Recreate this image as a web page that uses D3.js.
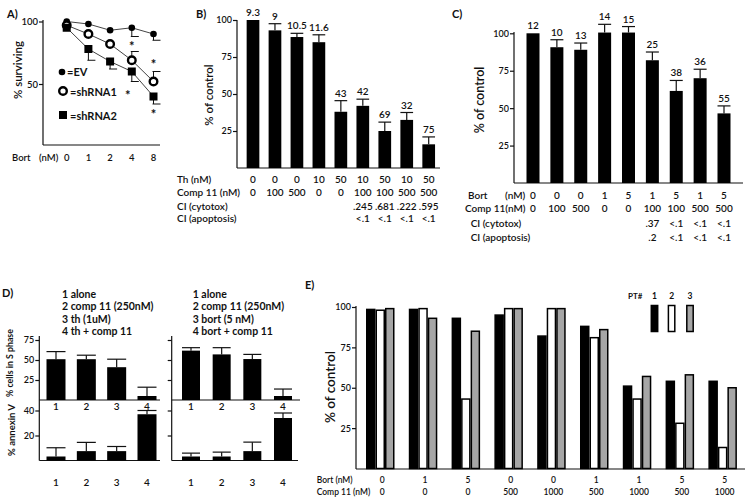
<!DOCTYPE html>
<html><head><meta charset="utf-8">
<script src="https://cdn.jsdelivr.net/npm/d3@7"></script>
<style>body{margin:0;background:#fff} svg text{font-family:Lato,"Open Sans",sans-serif;fill:#111}</style>
</head><body><svg id="c" width="751" height="502"></svg>
<script>
// ---------- DATA ----------
// Panel A
const aDoses = ["0","1","2","4","8"];
const aEV    = [100, 98, 93, 95, 90];
const aEVerr = [0, 0, 0, -7, -5];
const aSh1   = [97, 90, 82, 69, 52];
const aSh1err= [0, 0, 0, 7, 8];
const aSh2   = [95, 78, 68, 60, 40];
const aSh2err= [0, -9, -6, -8, -6];
const aStars = [{d:"4",v:81,dx:0},{d:"4",v:42,dx:-4},{d:"8",v:67,dx:0},{d:"8",v:27,dx:0}];
const aTicks = [50, 100];
// Panel B
const bTh    = ["0","0","0","10","50","10","50","10","50"];
const bComp  = ["0","100","500","0","0","100","100","500","500"];
const bCIc   = ["","","","","",".245",".681",".222",".595"];
const bCIa   = ["","","","","","<.1","<.1","<.1","<.1"];
const bVals  = [100, 93, 88.5, 85, 38, 42, 25, 32.5, 16];
const bErr   = [0, 4.5, 2.5, 5, 7.5, 4.5, 6, 5, 5];
const bLabels= ["9.3","9","10.5","11.6","43","42","69","32","75"];
// Panel C
const cBort  = ["0","0","0","1","5","1","5","1","5"];
const cComp  = ["0","100","500","0","0","100","100","500","500"];
const cCIc   = ["","","","","",".37","<.1","<.1","<.1"];
const cCIa   = ["","","","","",".2","<.1","<.1","<.1"];
const cVals  = [100, 90.7, 89, 100.5, 100.5, 82, 61.5, 70, 46.5];
const cErr   = [0, 5, 4.5, 5.5, 4, 5.5, 7, 6, 5];
const cLabels= ["12","10","13","14","15","25","38","36","55"];
const pctTicks = [25, 50, 75, 100];
// Panel D
const dCats   = ["1","2","3","4"];
const dLegL   = ["1 alone","2 comp 11 (250nM)","3 th (1uM)","4 th + comp 11"];
const dLegR   = ["1 alone","2 comp 11 (250nM)","3 bort (5 nM)","4 bort + comp 11"];
const dLS     = [51, 51, 41, 5];     const dLSerr = [9.5, 5, 10, 11];
const dLA     = [3.2, 7.5, 7.5, 37]; const dLAerr = [7, 7, 3.7, 3];
const dRS     = [61.7, 57, 51.2, 5]; const dRSerr = [3.7, 8.4, 5.8, 8.7];
const dRA     = [3.2, 3.2, 7.5, 34]; const dRAerr = [2.7, 3.5, 7.2, 4];
const dTicksS = [25, 50, 75];
const dTicksA = [20, 40];
// Panel E
const eBort = ["0","1","5","0","0","1","1","5","5"];
const eComp = ["0","0","0","500","1000","500","1000","500","1000"];
const ePT1  = [98.5, 98.5, 93, 95, 82, 88, 51, 54, 54];
const ePT2  = [98, 99, 43, 99, 99, 81, 43, 28, 13];
const ePT3  = [99, 93, 85, 99, 99, 86, 57, 58, 50];
const ePT   = ["1","2","3"];

// ---------- DRAW ----------
const INK = "#111";
const F = 'Lato,"Open Sans",sans-serif';
const svg = d3.select("#c");
svg.append("rect").attr("width",751).attr("height",502).attr("fill","#fff");

function label(x, y, s, size, o = {}) {
  const t = svg.append("text").attr("x", x).attr("y", y).text(s)
    .attr("font-size", size).attr("text-anchor", o.anchor || "start")
    .attr("font-weight", o.weight || "600");
  if (o.rotate) t.attr("transform", `rotate(-90,${x},${y})`);
  return t;
}
function line(x1, y1, x2, y2, w = 1.2, c = INK) {
  svg.append("line").attr("x1", x1).attr("y1", y1).attr("x2", x2).attr("y2", y2)
    .attr("stroke", c).attr("stroke-width", w);
}
function yAxis(x, scale, ticks, show, size) {
  const ax = d3.axisLeft(scale).tickValues(ticks).tickSize(4).tickSizeOuter(0)
    .tickFormat(show ? d3.format("d") : () => "");
  const g = svg.append("g").attr("transform", `translate(${x},0)`).call(ax)
    .attr("font-family", F).attr("font-size", size);
  g.select(".domain").remove();
  g.selectAll("line").attr("stroke", INK).attr("stroke-width", 1.2);
  g.selectAll("text").attr("fill", INK).attr("x", -5).attr("font-weight", "600");
  return g;
}
function barSet(xs, keys, ys, vals, errs, w, fill = "#000") {
  const g = svg.append("g");
  g.selectAll("rect").data(vals).join("rect")
    .attr("x", (d, i) => xs(keys[i]) - w / 2).attr("y", d => ys(d))
    .attr("width", w).attr("height", d => ys(0) - ys(d)).attr("fill", fill);
  vals.forEach((v, i) => {
    if (!errs[i]) return;
    const cx = xs(keys[i]);
    line(cx, ys(v), cx, ys(v + errs[i]), 1.2);
    line(cx - w / 2, ys(v + errs[i]), cx + w / 2, ys(v + errs[i]), 1.2);
  });
}

// ===== Panel A =====
const aX = d3.scalePoint().domain(aDoses).range([66.7, 153.5]);
const aY = d3.scaleLinear().domain([0, 100]).range([146.5, 21.5]);
line(43, 20, 43, 145); line(43, 145, 160, 145);
yAxis(43, aY, aTicks, true, 9.5);
label(7, 18, "A)", 11, {weight: "bold"});
label(22, 70, "% surviving", 11.5, {rotate: true, anchor: "middle"});
label(12, 161, "Bort", 9.5); label(39, 161, "(nM)", 9.5);
aDoses.forEach(d => label(aX(d), 161, d, 9.5, {anchor: "middle"}));
const aSeries = [[aEV, aEVerr], [aSh1, aSh1err], [aSh2, aSh2err]];
const ln = d3.line().x((d, i) => aX(aDoses[i])).y(d => aY(d));
aSeries.forEach(([vals, errs]) => {
  svg.append("path").attr("d", ln(vals)).attr("fill", "none").attr("stroke", "#444").attr("stroke-width", 1);
  vals.forEach((v, i) => {
    if (!errs[i]) return;
    const cx = aX(aDoses[i]), y2 = aY(v + errs[i]);
    line(cx, aY(v), cx, y2, 1); line(cx - 1, y2, cx + 7, y2, 1);
  });
});
svg.append("g").selectAll("circle").data(aEV).join("circle")
  .attr("cx", (d, i) => aX(aDoses[i])).attr("cy", d => aY(d)).attr("r", 3.3).attr("fill", "#000");
svg.append("g").selectAll("circle").data(aSh1).join("circle")
  .attr("cx", (d, i) => aX(aDoses[i])).attr("cy", d => aY(d)).attr("r", 3.8)
  .attr("fill", "#fff").attr("stroke", "#000").attr("stroke-width", 2.4);
svg.append("g").selectAll("rect").data(aSh2).join("rect")
  .attr("x", (d, i) => aX(aDoses[i]) - 4).attr("y", d => aY(d) - 4).attr("width", 8).attr("height", 8).attr("fill", "#000");
aStars.forEach(s => label(aX(s.d) + s.dx, aY(s.v) + 6, "*", 13, {anchor: "middle", weight: "bold"}));
// legend A
svg.append("circle").attr("cx", 62).attr("cy", 72).attr("r", 3.3).attr("fill", "#000");
label(67, 76, "=EV", 11, {weight: "bold"});
svg.append("circle").attr("cx", 63).attr("cy", 91).attr("r", 3.8).attr("fill", "#fff").attr("stroke", "#000").attr("stroke-width", 2.4);
label(70, 95.5, "=shRNA1", 11, {weight: "bold"});
svg.append("rect").attr("x", 59).attr("y", 111).attr("width", 8).attr("height", 8).attr("fill", "#000");
label(70, 119.5, "=shRNA2", 11, {weight: "bold"});

// ===== Panel B =====
const bIdx = d3.range(bVals.length);
const bX = d3.scalePoint().domain(bIdx).range([253, 428.7]);
const bY = d3.scaleLinear().domain([0, 100]).range([168, 20]);
line(237, 20, 237, 168); line(237, 168, 440, 168);
yAxis(237, bY, pctTicks, true, 9);
barSet(bX, bIdx, bY, bVals, bErr, 12.7);
bLabels.forEach((s, i) => label(bX(i), bY(bVals[i] + bErr[i]) - 4, s, 10, {anchor: "middle"}));
label(196, 18, "B)", 11, {weight: "bold"});
label(213, 95, "% of control", 11.5, {rotate: true, anchor: "middle"});
const bRows = [["Th (nM)", bTh], ["Comp 11 (nM)", bComp], ["CI (cytotox)", bCIc], ["CI (apoptosis)", bCIa]];
const bRowY = [183, 195.7, 209.5, 221.5];
bRows.forEach(([name, vals], r) => {
  label(177, bRowY[r], name, 10);
  vals.forEach((s, i) => label(bX(i), bRowY[r], s, 10, {anchor: "middle"}));
});

// ===== Panel C =====
const cIdx = d3.range(cVals.length);
const cX = d3.scalePoint().domain(cIdx).range([533, 724]);
const cY = d3.scaleLinear().domain([0, 100]).range([183, 33.3]);
line(514, 32, 514, 183); line(514, 183, 743, 183);
yAxis(514, cY, pctTicks, true, 9);
barSet(cX, cIdx, cY, cVals, cErr, 13);
cLabels.forEach((s, i) => label(cX(i), cY(cVals[i] + cErr[i]) - 4, s, 10, {anchor: "middle"}));
label(452, 18, "C)", 11, {weight: "bold"});
label(484, 100, "% of control", 12.5, {rotate: true, anchor: "middle"});
const cRowY = [199, 212.3, 226.7, 240.7];
label(468, cRowY[0], "Bort", 10); label(505, cRowY[0], "(nM)", 10);
label(465, cRowY[1], "Comp 11(nM)", 10);
label(470.7, cRowY[2], "CI (cytotox)", 10);
label(470.7, cRowY[3], "CI (apoptosis)", 10);
[cBort, cComp, cCIc, cCIa].forEach((vals, r) =>
  vals.forEach((s, i) => label(cX(i), cRowY[r], s, 10, {anchor: "middle"})));

// ===== Panel D =====
const dYU = d3.scaleLinear().domain([0, 75]).range([400, 340]);
const dYL = d3.scaleLinear().domain([0, 40]).range([460.5, 410.5]);
const dXL = d3.scalePoint().domain(dCats).range([56, 147]);
const dXR = d3.scalePoint().domain(dCats).range([191, 283]);
const dLegY = [298, 310, 322.5, 335];
dLegL.forEach((s, i) => label(62, dLegY[i], s, 10.5, {weight: "bold"}));
dLegR.forEach((s, i) => label(192.7, dLegY[i], s, 10.5, {weight: "bold"}));
label(2, 297, "D)", 11, {weight: "bold"});
// left sub-panel
line(39.3, 336, 39.3, 460.5); line(39.3, 400, 160, 400); line(39.3, 460.5, 160, 460.5);
yAxis(39.3, dYU, dTicksS, true, 9); yAxis(39.3, dYL, dTicksA, true, 9);
barSet(dXL, dCats, dYU, dLS, dLSerr, 19);
barSet(dXL, dCats, dYL, dLA, dLAerr, 19);
// right sub-panel
line(171.7, 336, 171.7, 460.5); line(171.7, 400, 300, 400); line(171.7, 460.5, 298, 460.5);
yAxis(171.7, dYU, dTicksS, false, 9); yAxis(171.7, dYL, dTicksA, false, 9);
barSet(dXR, dCats, dYU, dRS, dRSerr, 18);
barSet(dXR, dCats, dYL, dRA, dRAerr, 18);
dCats.forEach(c => {
  label(dXL(c), 410, c, 10, {anchor: "middle"}); label(dXL(c), 485.5, c, 10, {anchor: "middle"});
  label(dXR(c), 410, c, 10, {anchor: "middle"}); label(dXR(c), 485.5, c, 10, {anchor: "middle"});
});
label(13, 363, "% cells in S phase", 8.8, {rotate: true, anchor: "middle", weight: "bold"});
label(15, 430, "% annexin V", 9.5, {rotate: true, anchor: "middle", weight: "bold"});

// ===== Panel E =====
const eIdx = d3.range(ePT1.length);
const eX = d3.scaleBand().domain(eIdx).range([366, 736.9]).paddingInner(0.334).paddingOuter(0);
const eSub = d3.scaleBand().domain(ePT).range([0, eX.bandwidth()]);
const eY = d3.scaleLinear().domain([0, 100]).range([468.5, 307]);
const eFills = ["#000", "#fff", "#a6a6a6"];
const eSeries = [ePT1, ePT2, ePT3];
line(356, 306, 356, 469); line(356, 469, 745, 469);
yAxis(356, eY, pctTicks, true, 9);
eSeries.forEach((vals, s) => {
  svg.append("g").selectAll("rect").data(vals).join("rect")
    .attr("x", (d, i) => eX(i) + eSub(ePT[s]) + 0.75).attr("y", d => eY(d))
    .attr("width", eSub.bandwidth() - 1.5).attr("height", d => eY(0) - eY(d))
    .attr("fill", eFills[s]).attr("stroke", "#000").attr("stroke-width", 1.5);
});
label(305, 289, "E)", 11, {weight: "bold"});
label(335, 387, "% of control", 13.5, {rotate: true, anchor: "middle"});
label(316.7, 482.5, "Bort (nM)", 8.5); label(316.7, 495, "Comp 11 (nM)", 8.5);
eIdx.forEach(i => {
  const cx = eX(i) + eX.bandwidth() / 2 + 2;
  label(cx, 482.5, eBort[i], 8.5, {anchor: "middle"});
  label(cx, 495, eComp[i], 8.5, {anchor: "middle"});
});
// legend E
label(628, 299, "PT#", 8, {weight: "bold"});
const legX = [654.5, 671.6, 690];
ePT.forEach((p, s) => {
  label(legX[s], 299, p, 8.5, {anchor: "middle", weight: "bold"});
  svg.append("rect").attr("x", legX[s] - 3.2).attr("y", 305.5).attr("width", 6.4).attr("height", 26)
    .attr("fill", eFills[s]).attr("stroke", "#000").attr("stroke-width", 1.5);
});
</script></body></html>
